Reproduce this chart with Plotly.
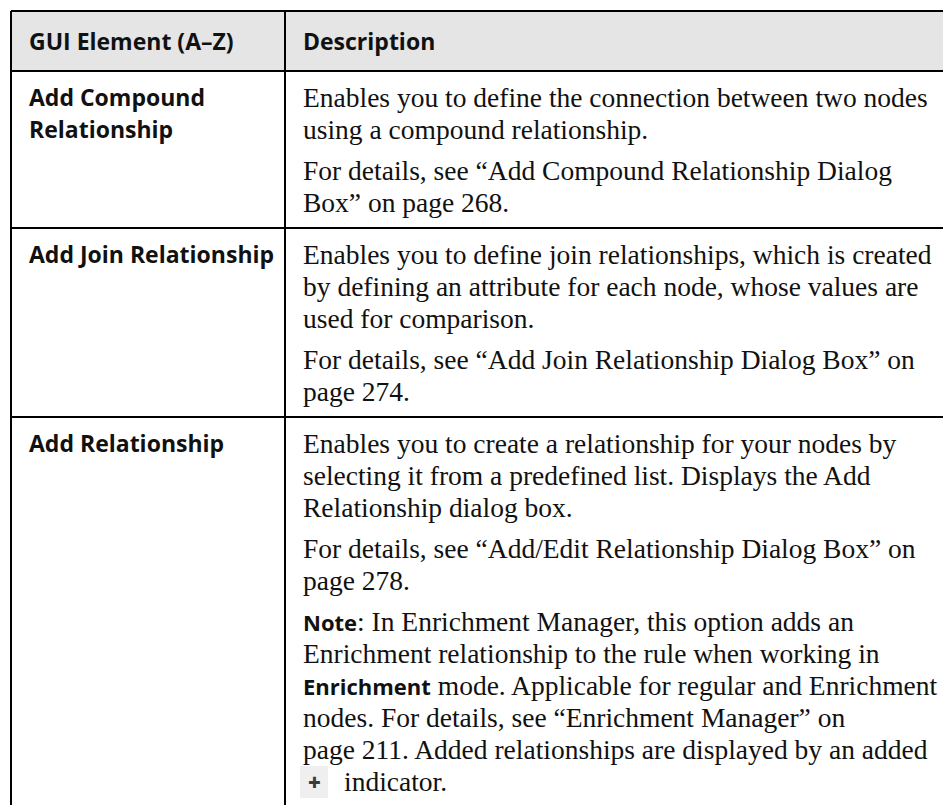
import plotly.graph_objects as go

# ---------------- data ----------------
header_labels = ["GUI Element (A\u2013Z)", "Description"]

gui_elements = [
    ["Add Compound", "Relationship"],
    ["Add Join Relationship"],
    ["Add Relationship"],
]

BOLD = '<span style="font-family:\'Open Sans\';font-weight:700;font-size:22px">{}</span>'

row1_desc = [
    ["Enables you to define the connection between two nodes",
     "using a compound relationship."],
    ["For details, see \u201cAdd Compound Relationship Dialog",
     "Box\u201d on page 268."],
]
row2_desc = [
    ["Enables you to define join relationships, which is created",
     "by defining an attribute for each node, whose values are",
     "used for comparison."],
    ["For details, see \u201cAdd Join Relationship Dialog Box\u201d on",
     "page 274."],
]
row3_desc = [
    ["Enables you to create a relationship for your nodes by",
     "selecting it from a predefined list. Displays the Add",
     "Relationship dialog box."],
    ["For details, see \u201cAdd/Edit Relationship Dialog Box\u201d on",
     "page 278."],
    [BOLD.format("Note") + ": In Enrichment Manager, this option adds an",
     "Enrichment relationship to the rule when working in",
     BOLD.format("Enrichment") + " mode. Applicable for regular and Enrichment",
     "nodes. For details, see \u201cEnrichment Manager\u201d on",
     "page 211. Added relationships are displayed by an added",
     "{icon}indicator."],
]
descriptions = [row1_desc, row2_desc, row3_desc]

# ---------------- style / layout constants ----------------
W, H = 951, 805
OFF = 8  # default page margin of the HTML body; keeps page pixels == data units
LEFT, DIV, RIGHT = 11, 285, 975
TOP, HEAD_BOTTOM = 11, 71
LINE_H, PARA_GAP, PAD = 32, 9, 26
TEXT_X1, TEXT_X2 = 27, 301
SANS = "Open Sans"
SERIF = "Liberation Serif"
SANS_SIZE, SERIF_SIZE = 23, 27.5
INK = "#111111"
HEAD_FILL = "#e5e5e5"

fig = go.Figure()
shapes = []
annotations = []

# header background
shapes.append(dict(type="rect", x0=LEFT, x1=RIGHT, y0=TOP, y1=HEAD_BOTTOM,
                   fillcolor=HEAD_FILL, line=dict(width=0), layer="below"))

def add_text(x, y, text, font, size, bold=False, color=INK):
    annotations.append(dict(
        x=x, y=y, xref="x", yref="y", text=text, showarrow=False,
        xanchor="left", yanchor="middle", align="left",
        font=dict(family=font, size=size, color=color,
                  weight=700 if bold else 400)))

# header text
head_y = (TOP + HEAD_BOTTOM) / 2
add_text(TEXT_X1, head_y, header_labels[0], SANS, SANS_SIZE, bold=True)
add_text(TEXT_X2, head_y, header_labels[1], SANS, SANS_SIZE, bold=True)

# rows
y_border = HEAD_BOTTOM
hlines = [TOP, HEAD_BOTTOM]
for name_lines, paras in zip(gui_elements, descriptions):
    y = y_border + PAD
    for i, nl in enumerate(name_lines):
        add_text(TEXT_X1, y + i * LINE_H, nl, SANS, SANS_SIZE, bold=True)
    for p_i, para in enumerate(paras):
        if p_i > 0:
            y += PARA_GAP
        for line in para:
            if "{icon}" in line:
                ix0, ix1 = TEXT_X2 - 1, TEXT_X2 + 27
                shapes.append(dict(type="rect", x0=ix0, x1=ix1, y0=y - 15, y1=y + 17,
                                   fillcolor="#efefef", line=dict(width=0)))
                annotations.append(dict(
                    x=(ix0 + ix1) / 2, y=y + 1, xref="x", yref="y", text="+",
                    showarrow=False, xanchor="center", yanchor="middle",
                    font=dict(family=SANS, size=22, color="#3a3a3a", weight=800)))
                add_text(TEXT_X2 + 41, y, line.replace("{icon}", ""), SERIF, SERIF_SIZE)
            else:
                add_text(TEXT_X2, y, line, SERIF, SERIF_SIZE)
            y += LINE_H
    y_border = y - LINE_H + PAD
    hlines.append(y_border)

for yl in hlines:
    shapes.append(dict(type="line", x0=LEFT, x1=RIGHT, y0=yl, y1=yl,
                       line=dict(color="black", width=2)))
for xl in (LEFT, DIV):
    shapes.append(dict(type="line", x0=xl, x1=xl, y0=TOP, y1=H + 30,
                       line=dict(color="black", width=2)))

fig.update_layout(
    width=W, height=H, margin=dict(l=0, r=0, t=0, b=0),
    paper_bgcolor="white", plot_bgcolor="white",
    xaxis=dict(range=[OFF, W + OFF], visible=False, fixedrange=True),
    yaxis=dict(range=[H + OFF, OFF], visible=False, fixedrange=True),
    shapes=shapes, annotations=annotations, showlegend=False,
)
fig.write_html("out.html")
